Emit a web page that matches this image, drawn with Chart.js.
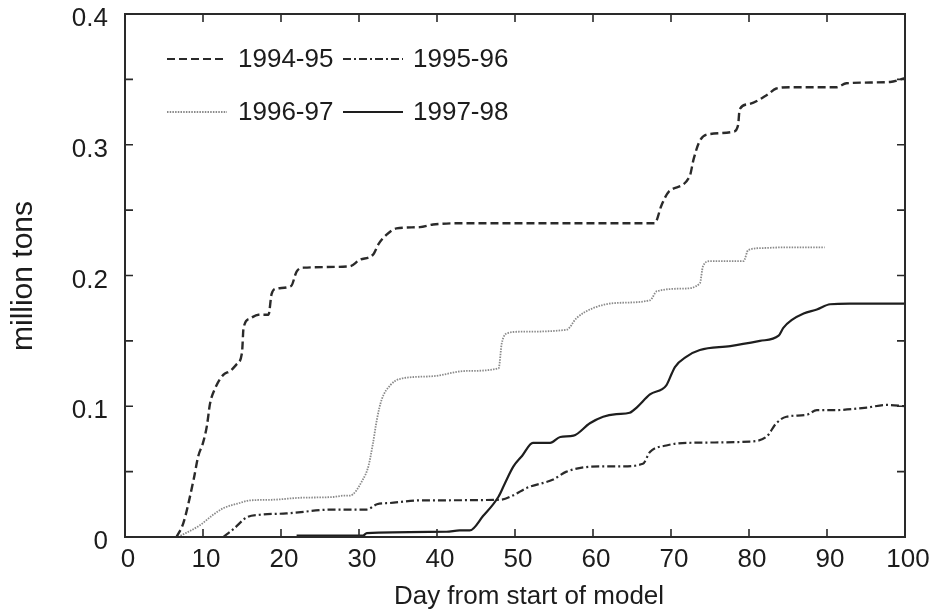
<!DOCTYPE html>
<html>
<head>
<meta charset="utf-8">
<script src="https://cdn.jsdelivr.net/npm/chart.js@4"></script>
<style>
html,body{margin:0;padding:0;background:#fff;}
#wrap{width:933px;height:613px;}
</style>
</head>
<body>
<div id="wrap"><canvas id="c" width="933" height="613"></canvas></div>
<script>
// ---- data ----
const seriesNames = ['1994-95', '1995-96', '1996-97', '1997-98'];
const xTicks = [0, 10, 20, 30, 40, 50, 60, 70, 80, 90, 100];
const yTickLabels = ['0', '0.1', '0.2', '0.3', '0.4'];

const days9495 = [6.6,7.5,8.8,9.4,10.0,10.5,10.9,11.5,12.6,13.5,14.3,15.0,15.2,16.0,17.1,18.4,18.8,19.4,21.3,22.0,22.9,28.8,30.1,31.8,32.5,33.5,34.8,37.8,39.5,43.8,67.9,68.8,69.7,72.4,72.9,73.7,74.8,78.0,78.6,78.8,79.9,82.3,83.5,85.3,91.2,92.5,98.1,100];
const tons9495 = [0,0.011,0.044,0.062,0.072,0.085,0.102,0.113,0.124,0.127,0.132,0.141,0.160,0.167,0.170,0.170,0.186,0.190,0.192,0.203,0.206,0.207,0.212,0.216,0.224,0.231,0.236,0.237,0.239,0.240,0.240,0.254,0.264,0.276,0.289,0.303,0.308,0.310,0.315,0.327,0.331,0.338,0.343,0.344,0.344,0.347,0.348,0.351];

const days9596 = [12.6,13.9,15.6,17.3,20.7,26.7,31.0,32.3,34.0,37.8,48.1,49.8,51.5,54.9,56.6,60.9,63.5,66.4,67.3,69.4,72.0,80.1,82.3,83.5,84.8,87.4,88.7,90.8,95.1,97.6,100];
const tons9596 = [0,0.006,0.015,0.017,0.018,0.021,0.021,0.025,0.026,0.028,0.0285,0.032,0.0375,0.044,0.050,0.054,0.054,0.056,0.065,0.070,0.072,0.073,0.077,0.087,0.092,0.0935,0.097,0.097,0.099,0.101,0.100];

const days9697 = [6.8,9.6,11.3,12.6,14.7,16.0,19.0,22.4,26.7,28.0,28.8,30.5,31.2,31.8,32.3,32.9,34.0,35.3,39.5,43.8,47.9,48.3,49.1,50.6,56.6,57.9,60.0,63.0,67.3,68.2,71.6,73.7,74.1,75.0,79.3,79.9,81.8,84.4,89.7];
const tons9697 = [0,0.009,0.017,0.022,0.026,0.028,0.0285,0.030,0.0306,0.0316,0.0316,0.044,0.054,0.072,0.090,0.105,0.116,0.121,0.123,0.127,0.129,0.148,0.156,0.157,0.1585,0.1675,0.175,0.179,0.181,0.188,0.190,0.194,0.207,0.211,0.211,0.2195,0.221,0.2215,0.2215];

const days9798 = [22.0,30.5,31.0,41.2,42.9,44.2,45.9,47.9,48.7,49.8,50.9,52.3,54.5,55.8,57.5,59.6,61.3,63.0,64.7,65.6,67.3,69.4,70.1,70.5,72.0,73.7,77.6,81.4,83.8,84.4,85.5,87.0,88.7,90.4,92.9,100];
const tons9798 = [0.001,0.001,0.003,0.004,0.005,0.005,0.016,0.031,0.041,0.054,0.062,0.072,0.072,0.0765,0.0775,0.087,0.092,0.094,0.095,0.099,0.109,0.116,0.125,0.130,0.138,0.143,0.146,0.150,0.154,0.160,0.166,0.171,0.174,0.178,0.1785,0.1785];

function pts(xs, ys){ return xs.map((x,i)=>({x:x, y:ys[i]})); }

const FONT = 'Arial, "Liberation Sans", sans-serif';
const TXT = '#1c1c1c';

const styles = [
  {color:'#2a2a2a', width:2.4, dash:[8,4]},
  {color:'#2a2a2a', width:2.2, dash:[8,3,2,3]},
  {color:'#8a8a8a', width:1.8, dash:[1.5,1.2]},
  {color:'#1e1e1e', width:2.2, dash:[]}
];
const seriesData = [pts(days9495,tons9495), pts(days9596,tons9596), pts(days9697,tons9697), pts(days9798,tons9798)];

const datasets = seriesNames.map((n,i)=>({
  label:n,
  data:seriesData[i],
  borderColor:styles[i].color,
  borderWidth:styles[i].width,
  borderDash:styles[i].dash,
  pointRadius:0,
  fill:false,
  cubicInterpolationMode:'monotone'
}));

// frame, inward ticks, legend and axis titles
const decor = {
  id:'decor',
  afterDraw(chart){
    const {ctx, chartArea:a, scales:{x, y}} = chart;
    ctx.save();
    ctx.strokeStyle = '#2a2a2a';
    ctx.lineWidth = 2;
    ctx.setLineDash([]);
    ctx.strokeRect(a.left, a.top, a.right - a.left, a.bottom - a.top);
    ctx.lineWidth = 1.6;
    const tl = 8;
    x.ticks.forEach(t=>{
      const px = x.getPixelForValue(t.value);
      ctx.beginPath();
      ctx.moveTo(px, a.bottom); ctx.lineTo(px, a.bottom - tl);
      ctx.moveTo(px, a.top); ctx.lineTo(px, a.top + tl);
      ctx.stroke();
    });
    y.ticks.forEach(t=>{
      const py = y.getPixelForValue(t.value);
      ctx.beginPath();
      ctx.moveTo(a.left, py); ctx.lineTo(a.left + tl, py);
      ctx.moveTo(a.right, py); ctx.lineTo(a.right - tl, py);
      ctx.stroke();
    });
    // legend
    const lx = [167, 343], tx = [238, 413], ly = [59, 112];
    ctx.font = '26px ' + FONT;
    ctx.fillStyle = TXT;
    ctx.textBaseline = 'middle';
    ctx.textAlign = 'left';
    chart.data.datasets.forEach((d,i)=>{
      const col = i % 2, row = Math.floor(i/2);
      ctx.strokeStyle = d.borderColor;
      ctx.lineWidth = Math.min(d.borderWidth, 2);
      ctx.setLineDash(d.borderDash);
      ctx.beginPath();
      ctx.moveTo(lx[col], ly[row]); ctx.lineTo(lx[col] + 60, ly[row]);
      ctx.stroke();
      ctx.setLineDash([]);
      ctx.fillText(d.label, tx[col], ly[row] + 1);
    });
    // axis titles
    ctx.textAlign = 'center';
    ctx.font = '26px ' + FONT;
    ctx.fillText('Day from start of model', 529, 597);
    ctx.save();
    ctx.translate(24, 276);
    ctx.rotate(-Math.PI/2);
    ctx.font = '30px ' + FONT;
    ctx.fillText('million tons', 0, 0);
    ctx.restore();
    ctx.restore();
  }
};

new Chart(document.getElementById('c'), {
  type:'line',
  data:{datasets},
  options:{
    responsive:false,
    animation:false,
    devicePixelRatio:1,
    layout:{padding:{left:0, right:28, top:14, bottom:0}},
    plugins:{legend:{display:false}, tooltip:{enabled:false}},
    scales:{
      x:{
        type:'linear', min:0, max:100,
        afterBuildTicks(s){ s.ticks = xTicks.map(v=>({value:v})); },
        afterFit(s){ s.height = 76; s.paddingLeft = 0; s.paddingRight = 0; },
        grid:{display:false, drawTicks:false},
        border:{display:false},
        ticks:{font:{size:26, family:FONT}, color:TXT, padding:7, labelOffset:3, maxRotation:0,
          callback:v=>String(v)}
      },
      y:{
        type:'linear', min:0, max:0.4,
        ticks:{stepSize:0.05, font:{size:26, family:FONT}, color:TXT, padding:17, labelOffset:5,
          callback:(v)=>{ const k = Math.round(v*20); return k % 2 === 0 ? yTickLabels[k/2] : ''; }},
        afterFit(s){ s.width = 125; s.paddingTop = 0; s.paddingBottom = 0; },
        grid:{display:false, drawTicks:false},
        border:{display:false}
      }
    }
  },
  plugins:[decor]
});
</script>
</body>
</html>
